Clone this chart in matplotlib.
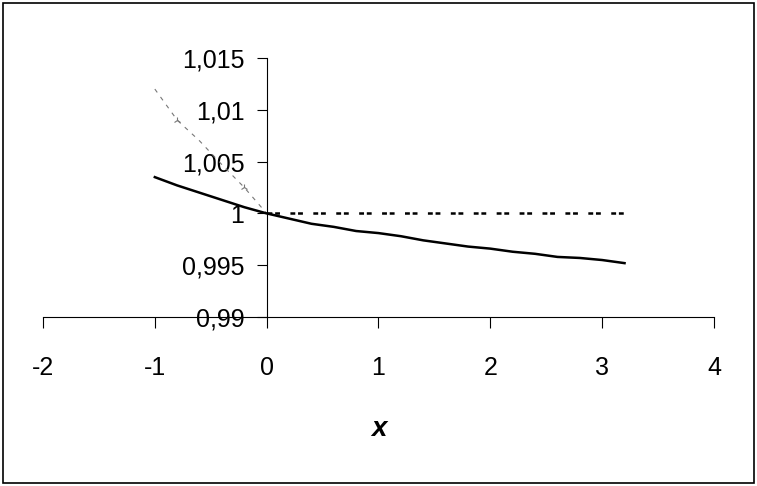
import numpy as np
import matplotlib.pyplot as plt
from matplotlib.patches import Rectangle

plt.rcParams['font.family'] = ['Liberation Sans', 'DejaVu Sans']
plt.rcParams['lines.scale_dashes'] = False

# solid curve
x_curve = [-1.0, -0.8, -0.6, -0.4, -0.2, 0.0, 0.2, 0.4, 0.6, 0.8, 1.0,
           1.2, 1.4, 1.6, 1.8, 2.0, 2.2, 2.4, 2.6, 2.8, 3.0, 3.2]
y_curve = [1.0035, 1.0027, 1.0020, 1.0013, 1.0006, 1.0000, 0.9995, 0.9990,
           0.9987, 0.9983, 0.9981, 0.9978, 0.9974, 0.9971, 0.9968, 0.9966,
           0.9963, 0.9961, 0.9958, 0.9957, 0.9955, 0.9952]
# reference level
x_level = [0.0, 3.2]
y_level = [1.0, 1.0]
# thin grey curve
x_grey = [-1.0, -0.8, -0.6, -0.4, -0.2, 0.0]
y_grey = [1.0120, 1.0090, 1.0070, 1.0047, 1.0025, 1.0000]

xticks = [-2, -1, 0, 1, 2, 3, 4]
yticks = [0.99, 0.995, 1.0, 1.005, 1.01, 1.015]
ylabels = ['0,99', '0,995', '1', '1,005', '1,01', '1,015']

fig = plt.figure(figsize=(7.57, 4.86), dpi=100)
ax = fig.add_axes([0.0568, 0.3477, 0.8864, 0.533])

ax.plot(x_grey, y_grey, color='#777777', linewidth=0.8, linestyle=(0, (3, 4)),
        marker='2', markersize=5, markevery=[1, 4], markeredgewidth=0.8)
ax.plot(x_curve, y_curve, color='black', linewidth=1.8)
ax.plot(x_level, y_level, color='black', linewidth=1.8,
        linestyle=(0, (3.5, 2.0, 3.5, 7.5)))

ax.set_xlim(-2, 4)
ax.set_ylim(0.99, 1.015)
ax.set_xticks(xticks)
ax.set_xticklabels([str(t) for t in xticks])
ax.set_yticks(yticks)
ax.set_yticklabels(ylabels)

ax.spines['left'].set_position(('data', 0))
ax.spines['top'].set_visible(False)
ax.spines['right'].set_visible(False)
ax.spines['left'].set_linewidth(0.8)
ax.spines['bottom'].set_linewidth(0.8)
ax.tick_params(axis='both', direction='out', width=0.8, labelsize=18)
ax.tick_params(axis='x', length=8, pad=20)
ax.tick_params(axis='y', length=7, pad=9)
ax.patch.set_visible(False)

ax.set_xlabel('x', fontsize=20, fontweight='bold', fontstyle='italic', labelpad=26)

fig.patches.append(Rectangle((0.004, 0.006), 0.992, 0.988, transform=fig.transFigure,
                             fill=False, edgecolor='black', linewidth=1.2))

fig.savefig('out.png', dpi=100)
